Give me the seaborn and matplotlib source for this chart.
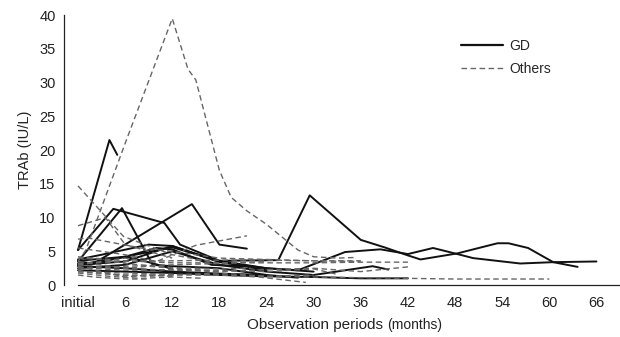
import numpy as np
import pandas as pd
import seaborn as sns
import matplotlib
matplotlib.use('Agg')
import matplotlib.pyplot as plt
from matplotlib.lines import Line2D

# ========== data: (months, TRAb) per patient ==========
GD_LINES = [
    ([0, 4, 5], [5.2, 21.5, 19.3]),
    ([0, 4.5, 11, 13, 18, 24, 30], [5.2, 11.3, 9.2, 6.0, 3.6, 2.5, 2.0]),
    ([0, 5.6, 9.5, 12, 18, 24], [3.5, 11.4, 3.0, 2.8, 2.5, 1.5]),
    ([0, 2, 14.5, 18, 21.5], [3.5, 3.2, 12.0, 6.0, 5.4]),
    ([0, 6, 12, 18, 25.5, 29.5, 36, 39, 42, 43.6, 48.3, 53.4, 54.8, 57.3, 60.5, 63.6],
     [3.0, 4.2, 5.6, 3.6, 3.7, 13.3, 6.7, 5.6, 4.4, 3.8, 4.7, 6.2, 6.2, 5.5, 3.4, 2.7]),
    ([0, 6, 12, 18, 24, 28, 34, 38.5, 42, 45.2, 48.3, 50.3, 56.3, 60.5, 66],
     [3.0, 3.5, 5.8, 3.4, 2.5, 2.2, 4.9, 5.3, 4.6, 5.5, 4.6, 4.0, 3.2, 3.4, 3.5]),
    ([0, 6, 12, 18, 24, 30, 37.5, 39.5], [2.5, 3.0, 5.0, 3.0, 2.0, 1.5, 2.8, 2.3]),
    ([0, 6, 12, 18, 24, 30, 36, 42], [2.2, 2.0, 1.8, 1.5, 1.3, 1.2, 1.0, 1.0]),
    ([0, 3, 9, 12, 18, 24], [3.8, 4.5, 6.0, 5.8, 3.5, 2.2]),
    ([0, 2, 6, 10, 12, 17, 21], [3.2, 3.2, 4.2, 5.5, 5.3, 3.0, 2.8]),
    ([0, 6, 12, 18, 24, 28], [2.8, 2.5, 2.0, 1.7, 1.5, 1.1]),
    ([0, 3, 6, 9, 12], [3.6, 3.9, 4.2, 3.4, 2.4]),
]

OTHER_LINES = [
    ([0, 1, 6, 12, 14, 15, 18, 19.5, 21.5, 24, 28, 30, 33, 35.5],
     [3.5, 5.2, 21.0, 39.5, 32.0, 30.4, 17.0, 13.0, 11.0, 9.0, 5.2, 4.2, 4.0, 4.1]),
    ([0, 5.8, 12, 18], [14.7, 7.2, 4.5, 3.2]),
    ([0, 1.2, 8, 12, 18, 24, 30, 36], [6.8, 7.0, 5.5, 5.0, 4.0, 3.8, 3.6, 3.6]),
    ([0, 6, 10, 15, 21.5], [5.5, 4.5, 3.5, 5.9, 7.3]),
    ([0, 3.5, 6, 12], [8.8, 10.0, 6.0, 4.0]),
    ([0, 3, 6, 9, 12, 18], [3.5, 3.0, 2.5, 2.8, 2.5, 2.0]),
    ([0, 3, 6, 9, 12], [2.8, 2.0, 1.2, 1.5, 1.3]),
    ([0, 3, 6, 12, 18, 24], [2.5, 2.6, 2.8, 3.0, 3.2, 3.5]),
    ([0, 3, 6, 9], [3.0, 3.5, 4.0, 3.5]),
    ([0, 2, 5, 9, 12, 18, 24, 30], [2.2, 1.8, 1.5, 1.3, 1.5, 1.8, 1.3, 1.5]),
    ([0, 3, 6, 12, 18, 22], [4.0, 3.8, 3.2, 2.6, 2.4, 2.5]),
    ([0, 4, 8, 12, 16], [1.8, 1.3, 1.0, 1.2, 1.0]),
    ([0, 6, 12, 18, 24, 30, 36], [3.2, 3.5, 3.6, 3.7, 3.7, 3.6, 3.5]),
    ([0, 3, 6, 12, 18, 24, 30, 33], [2.6, 2.4, 2.2, 2.3, 2.2, 2.0, 2.4, 1.6]),
    ([0, 2, 6, 9], [1.5, 1.2, 0.9, 0.9]),
    ([0, 6, 12, 18, 24, 30, 36, 42, 48, 54, 60], [2.0, 1.8, 1.6, 1.5, 1.3, 1.2, 1.1, 1.0, 0.9, 0.9, 0.9]),
    ([0, 6, 12, 18, 24, 30, 36, 42], [3.0, 2.5, 2.2, 2.0, 2.3, 2.5, 2.0, 2.7]),
    ([0, 6, 12, 18, 23, 29], [2.0, 1.5, 1.5, 1.5, 1.2, 0.4]),
    ([0, 6, 12, 18, 24, 30, 36, 42], [4.2, 3.6, 3.3, 3.3, 3.3, 3.3, 3.4, 3.4]),
]

X_TICKS = list(range(0, 67, 6))
X_LABELS = ['initial'] + [str(m) for m in X_TICKS[1:]]
Y_TICKS = list(range(0, 41, 5))


def build_frame():
    rows = []
    uid = 0
    for group, lines in (('GD', GD_LINES), ('Others', OTHER_LINES)):
        for months, vals in lines:
            for m, v in zip(months, vals):
                rows.append({'id': uid, 'group': group, 'month': m, 'value': v})
            uid += 1
    return pd.DataFrame(rows)


def main():
    df = build_frame()
    sns.set_style('white')
    plt.rcParams['font.family'] = ['Liberation Sans', 'DejaVu Sans']

    fig = plt.figure(figsize=(6.2, 3.37), dpi=100)
    ax = fig.add_axes([0.103, 0.154, 0.897, 0.801])

    sns.lineplot(
        data=df, x='month', y='value', units='id', estimator=None,
        hue='group', style='group', size='group',
        palette={'GD': '#111111', 'Others': '#666666'},
        dashes={'GD': '', 'Others': (4, 2.5)},
        sizes={'GD': 1.4, 'Others': 1.0},
        legend=False, ax=ax,
    )

    ax.set_xlim(-1.8, 69)
    ax.set_ylim(0, 40)
    ax.set_xticks(X_TICKS)
    ax.set_xticklabels(X_LABELS)
    ax.set_yticks(Y_TICKS)
    ax.tick_params(axis='both', labelsize=10.5, length=3, width=0.8,
                   direction='out', colors='#222222', pad=3)
    ax.tick_params(axis='x', pad=5)

    for s in ('top', 'right'):
        ax.spines[s].set_visible(False)
    for s in ('left', 'bottom'):
        ax.spines[s].set_color('#222222')
        ax.spines[s].set_linewidth(0.9)
    ax.spines['bottom'].set_bounds(0, 69)

    ax.set_xlabel('')
    ax.set_ylabel('TRAb (IU/L)', fontsize=10.5, color='#222222', labelpad=5)
    fig.text(0.617, 0.037, 'Observation periods', ha='right', va='center',
             fontsize=11, color='#222222')
    fig.text(0.625, 0.037, '(months)', ha='left', va='center',
             fontsize=10, color='#222222')

    handles = [
        Line2D([], [], color='#111111', lw=1.6),
        Line2D([], [], color='#666666', lw=1.0, dashes=(4, 2.5)),
    ]
    ax.legend(handles, ['GD', 'Others'], frameon=False, loc='upper left',
              bbox_to_anchor=(0.714, 0.912), borderaxespad=0, borderpad=0,
              handlelength=3.0, handletextpad=0.5, labelspacing=0.65,
              fontsize=10)

    fig.savefig('out.png', dpi=100)


if __name__ == '__main__':
    main()
